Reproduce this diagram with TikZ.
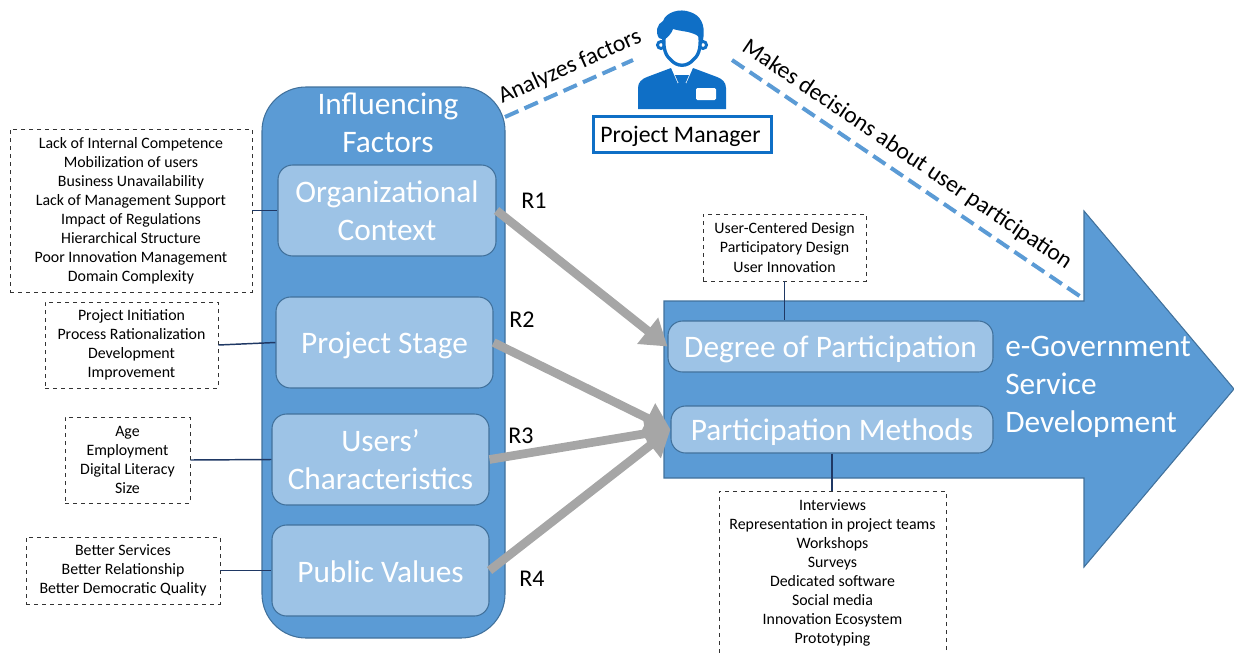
\documentclass[tikz,border=0pt]{standalone}
\usepackage{fontspec}
\setmainfont{Carlito}
\usetikzlibrary{arrows.meta}
\definecolor{panelblue}{HTML}{5B9BD5}
\definecolor{paneledge}{HTML}{41719C}
\definecolor{innerblue}{HTML}{9DC3E6}
\definecolor{iconblue}{HTML}{0F6FC6}
\definecolor{linknavy}{HTML}{1F3864}
\tikzset{
  panel/.style={draw=paneledge,fill=panelblue,line width=.8pt},
  factor/.style={draw=paneledge,fill=innerblue,line width=.8pt,rounded corners=11pt,align=center,inner sep=0pt},
  factortext/.style={text=white,align=center,inner sep=0pt,font=\fontsize{23.5}{28.5}\selectfont},
  headtext/.style={text=white,align=left,font=\fontsize{23.5}{28.5}\selectfont,inner sep=0pt},
  notebox/.style={draw=black!80,dashed,line width=.5pt,align=center,inner sep=0pt,
    font=\fontsize{11.9}{14.3}\selectfont},
  notelink/.style={draw=linknavy,line width=1.1pt},
  influence/.style={draw=black!35,line width=6.5pt,-{Triangle[length=19pt,width=24pt]}},
  duty/.style={draw=panelblue,line width=3pt,dash pattern=on 11pt off 5pt},
  duttext/.style={font=\fontsize{17.7}{22}\selectfont,inner sep=0pt},
  rlabel/.style={font=\fontsize{18}{22}\selectfont,inner sep=0pt}
}
\begin{document}
\begin{tikzpicture}[x=.75pt,y=-.75pt]
    \useasboundingbox (0,0) rectangle (1234,653);
    \clip (0,0) rectangle (1234,653);
    %the big arrow and the panel
    \draw[panel] (664,301) -- (1084,301) -- (1084,211) -- (1234,389) -- (1084,567) -- (1084,478) -- (664,478) -- cycle;
    \node[panel,rounded corners=33pt,minimum width=182.25pt,minimum height=413.25pt] (panel) at (383.5,362.5) {};
    \node[headtext,align=center] (title) at (388,123) {Influencing\\Factors};
    %inner boxes
    \node[factor,minimum width=163.5pt,minimum height=68.25pt] (org) at (387,210.5) {};
    \node[factor,minimum width=162.75pt,minimum height=68.25pt] (stage) at (384.5,342.5) {};
    \node[factor,minimum width=162.75pt,minimum height=68.25pt] (users) at (380.5,459.5) {};
    \node[factor,minimum width=162.75pt,minimum height=68.25pt] (public) at (380.5,570.5) {};
    \node[factor,minimum width=243.75pt,minimum height=38.25pt] (degree) at (830.5,346.5) {};
    \node[factor,minimum width=241.5pt,minimum height=35.25pt] (methods) at (832,429.5) {};
    \node[factortext] (orgtext) at (387,211) {Organizational\\Context};
    \node[factortext] (stagetext) at (384.5,345) {Project Stage};
    \node[factortext] (userstext) at (380.5,460) {Users’\\Characteristics};
    \node[factortext] (publictext) at (380.5,572) {Public Values};
    \node[factortext] (degreetext) at (830.5,349) {Degree of Participation};
    \node[factortext] (methodstext) at (832,432) {Participation Methods};
    \node[headtext,anchor=west] (service) at (1005,387) {e-Government\\Service\\Development};
    %dashed notes
    \node[notebox,minimum width=181.5pt,minimum height=122.25pt] (orgnote) at (131,210.5) {Lack of Internal Competence\\Mobilization of users\\Business Unavailability\\Lack of Management Support\\Impact of Regulations\\Hierarchical Structure\\Poor Innovation Management\\Domain Complexity};
    \node[notebox,minimum width=129.75pt,minimum height=64.5pt] (stagenote) at (131.5,345) {Project Initiation\\Process Rationalization\\Development\\Improvement};
    \node[notebox,minimum width=93.75pt,minimum height=64.5pt] (usersnote) at (127.5,460) {Age\\Employment\\Digital Literacy\\Size};
    \node[notebox,minimum width=145.5pt,minimum height=50.25pt] (publicnote) at (123,570.5) {Better Services\\Better Relationship\\Better Democratic Quality};
    \node[notebox,minimum width=122.25pt,minimum height=50.25pt] (degreenote) at (784.5,247.5) {User-Centered Design\\Participatory Design\\User Innovation};
    \node[notebox,minimum width=170.25pt,minimum height=123pt] (methodsnote) at (832.5,573) {Interviews\\Representation in project teams\\Workshops\\Surveys\\Dedicated software\\Social media\\Innovation Ecosystem\\Prototyping};
    \draw[notelink] (orgnote.east) -- (org.west);
    \draw[notelink] (stagenote.east) -- (stage.west);
    \draw[notelink] (usersnote.east) -- (users.west);
    \draw[notelink] (publicnote.east) -- (public.west);
    \draw[notelink] (degreenote.south) -- (degreenote.south |- degree.north);
    \draw[notelink] (methods.south) -- (methods.south |- methodsnote.north);
    %influence arrows
    \draw[influence] (org.east) -- (degree.west);
    \draw[influence] (stage.east) -- (methods.west);
    \draw[influence] (users.east) -- (methods.west);
    \draw[influence] (public.east) -- (methods.west);
    \node[rlabel] (r1) at (534,201) {R1};
    \node[rlabel] (r2) at (522,320) {R2};
    \node[rlabel] (r3) at (521,436) {R3};
    \node[rlabel] (r4) at (532,579) {R4};
    %the manager
    \fill[iconblue] (638,109) -- (638,88) .. controls (638,82) and (642,79) .. (647,77) -- (671,68) -- (678,84) -- (680,76) -- (684,76) -- (686,84) -- (693,68) -- (717,77) .. controls (722,79) and (726,82) .. (726,88) -- (726,109) -- cycle;
    \fill[white,rounded corners=1pt] (696,88) rectangle (716,100);
    \fill[iconblue] (675,75) -- (689,75) -- (686,82) -- (678,82) -- cycle;
    \draw[iconblue,line width=2.2pt,fill=white] (661,45) circle (3.5);
    \draw[iconblue,line width=2.2pt,fill=white] (703,45) circle (3.5);
    \fill[white] (664,28) -- (664,50) -- (682,65) -- (700,50) -- (700,28) -- cycle;
    \draw[iconblue,line width=2.5pt] (664,36) .. controls (663,50) and (666,56) .. (671,60) .. controls (677,67) and (687,67) .. (693,60) .. controls (698,56) and (701,50) .. (700,36);
    \fill[iconblue] (659,38) .. controls (655,32) and (657,24) .. (663,21) .. controls (666,12) and (680,8) .. (690,12) .. controls (700,15) and (706,24) .. (703,40) -- (700,40) .. controls (699,35) and (695,34) .. (688,32) .. controls (682,31) and (676,30) .. (673,29) .. controls (672,33) and (668,37) .. (664,40) -- cycle;
    \node[draw=iconblue,line width=2.2pt,minimum width=134pt,minimum height=27.5pt,inner sep=0pt] (manager) at (682.5,134.5) {};
    \node[font=\fontsize{17.8}{22}\selectfont,inner sep=0pt] (managertext) at (680.5,136) {Project Manager};
    %what the manager does
    \coordinate (analyzeleft) at (505,117);
    \coordinate (analyzeright) at (633,60);
    \coordinate (decideleft) at (732,60);
    \coordinate (decideright) at (1084,299);
    \draw[duty] (analyzeleft) -- (analyzeright);
    \draw[duty] (decideleft) -- (decideright);
    \node[duttext,rotate=24] (analyze) at (570,67) {Analyzes factors};
    \node[duttext,rotate=-34] (decide) at (907,155) {Makes decisions about user participation};
\end{tikzpicture}
\end{document}
